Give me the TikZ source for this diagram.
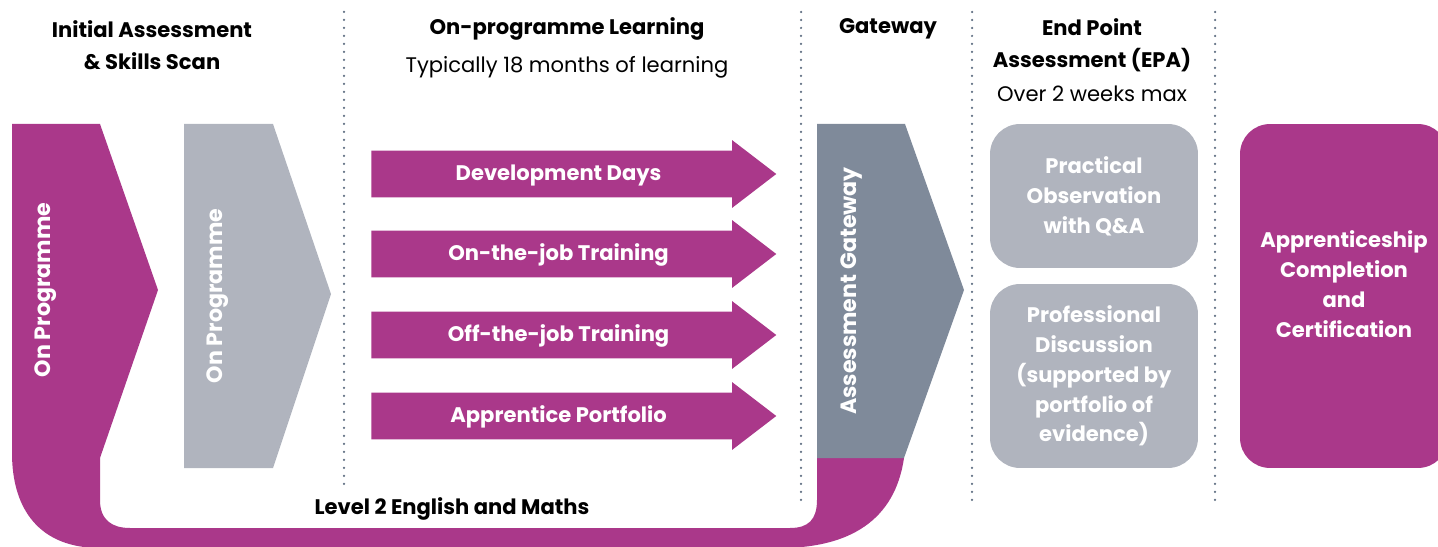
\documentclass[tikz,border=0pt]{standalone}
\usepackage{fontspec}
\setmainfont{Poppins}
\usepackage{xcolor}
\usepackage{tikz}
\usetikzlibrary{shapes,arrows,positioning,calc}

\definecolor{plum}{RGB}{170,56,138}
\definecolor{paleslate}{RGB}{176,180,190}
\definecolor{slate}{RGB}{127,138,154}
\definecolor{dotgrey}{RGB}{95,110,130}

\begin{document}
\begin{tikzpicture}[
    x=0.02cm, y=-0.02cm,
    every node/.style = {inner sep=0pt},
    hdr/.style = {align=center, font=\bfseries\fontsize{12}{18}\selectfont},
    subhdr/.style = {font=\fontsize{12}{18}\selectfont},
    whitetxt/.style = {text=white, align=center, font=\bfseries\fontsize{12}{17}\selectfont},
    sidetxt/.style = {whitetxt, font=\bfseries\fontsize{12.6}{17}\selectfont, rotate=90},
    learn/.style = {single arrow, fill=plum, anchor=tail, minimum height=8.1cm,
      single arrow head extend=0.21cm, single arrow tip angle=75,
      text height=0.4cm, text depth=0.12cm, inner xsep=0pt, inner ysep=0.2cm,
      whitetxt},
    epabox/.style = {rectangle, rounded corners=0.6cm, fill=paleslate, minimum width=4.16cm, whitetxt},
    divider/.style = {dotgrey, line width=0.05cm, line cap=round, dash pattern=on 0pt off 0.16cm}
  ]
  \useasboundingbox (0,0) rectangle (1438,547);
  \clip (0,0) rectangle (1438,547);

  % column dividers
  \foreach \x/\y [count=\i] in {344/488, 801/500, 972/500, 1215/500} {
    \coordinate (top\i) at (\x,12);
    \coordinate (bot\i) at (\x,\y);
    \draw[divider] (top\i) -- (bot\i);
  }

  % headings
  \node[hdr] (initial) at (152,45) {Initial Assessment\\\& Skills Scan};
  \node[hdr] (learning) at (567,29) {On-programme Learning};
  \node[subhdr] (months) at (567,67) {Typically 18 months of learning};
  \node[hdr] (gateway) at (888,29) {Gateway};
  \node[hdr] (epa) at (1092,45) {End Point\\Assessment (EPA)};
  \node[subhdr] (weeks) at (1092,94) {Over 2 weeks max};

  % magenta band
  \fill[plum] (12,124) -- (100,124) -- (158,290) -- (100,458) -- (100,500)
    .. controls (100,520) and (112,528) .. (130,528) -- (790,528)
    .. controls (808,528) and (817,520) .. (817,500) -- (817,458) -- (904,458)
    .. controls (895,520) and (850,548) .. (780,548) -- (100,548)
    .. controls (40,548) and (12,510) .. (12,453) -- cycle;
  \node[sidetxt] (onprog) at (46,290) {On Programme};

  % grey chevron
  \fill[paleslate] (184,124) -- (273,124) -- (331,294) -- (273,468) -- (184,468) -- cycle;
  \node[sidetxt] (onprogtwo) at (218,296) {On Programme};

  % gateway
  \fill[slate] (817,124) -- (905,124) -- (964,290) -- (904,458) -- (817,458) -- cycle;
  \node[sidetxt] (assessgate) at (852,291) {Assessment Gateway};

  % learning arrows
  \node[learn] (devdays) at (371,174) {Development Days};
  \node[learn] (onjob) at (371,254) {On-the-job Training};
  \node[learn] (offjob) at (371,335) {Off-the-job Training};
  \node[learn] (portfolio) at (371,416) {Apprentice Portfolio};

  \node[font=\bfseries\fontsize{12}{18}\selectfont] (english) at (452,509) {Level 2 English and Maths};

  % end point assessment
  \node[epabox, minimum height=2.88cm] (practical) at (1094,196) {Practical\\Observation\\with Q\&A};
  \node[epabox, minimum height=3.68cm] (discussion) at (1094,376) {Professional\\Discussion\\(supported by\\portfolio of\\evidence)};

  \node[epabox, fill=plum, minimum height=6.88cm] (complete) at (1344,296) {};
  \node[whitetxt] (completetxt) at (1344,284) {Apprenticeship\\Completion\\and\\Certification};
\end{tikzpicture}
\end{document}
